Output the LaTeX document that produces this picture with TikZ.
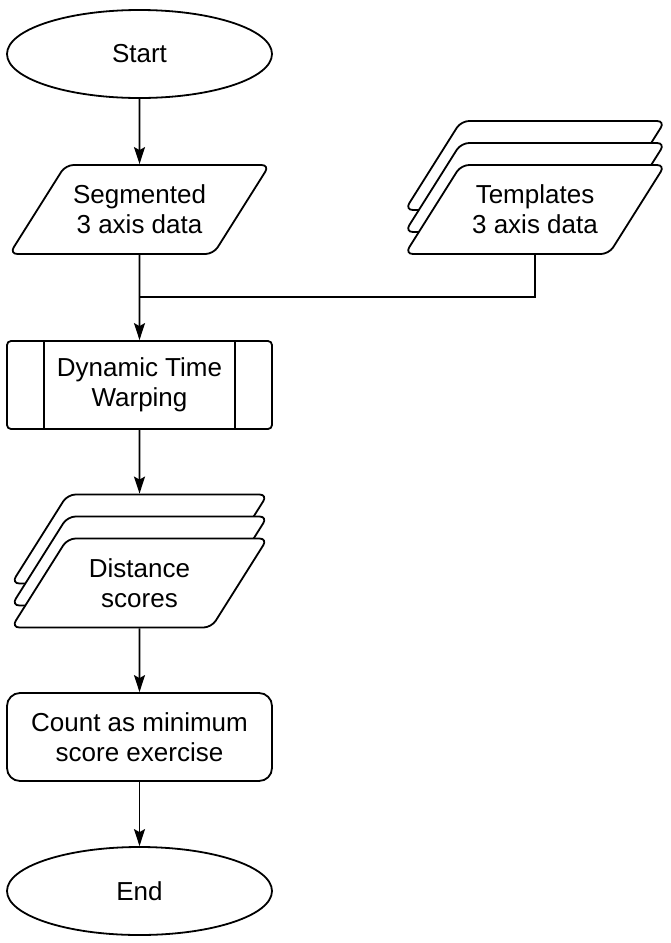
\documentclass[tikz,border=0pt]{standalone}
\usepackage{fontspec}
\setmainfont{Liberation Sans}
\usetikzlibrary{shapes.geometric,shadows,arrows.meta}

\begin{document}
\begin{tikzpicture}[x=1pt,y=1pt,line width=1.8pt,
	font=\fontsize{26pt}{30pt}\selectfont,
	box/.style={draw,fill=white,align=center,inner sep=0pt,minimum width=265pt,minimum height=88pt},
	term/.style={box,ellipse},
	io/.style={box,trapezium,trapezium left angle=56,trapezium right angle=124,inner ysep=17pt,
		trapezium stretches body,rounded corners=8pt,minimum width=260pt,minimum height=89pt},
	stack/.style={copy shadow={shadow xshift=0pt,shadow yshift=44pt,line width=1.8pt},
		copy shadow={shadow xshift=0pt,shadow yshift=22pt,line width=1.8pt}},
	arr/.style={-{Stealth[length=17pt,width=11pt,inset=3pt]}}]
	\useasboundingbox (0,0) rectangle (670,-943);
	\node [term] (start) at (139.5,-54) {Start};
	\node [io] (seg) at (139.5,-209.5) {Segmented\\3 axis data};
	\node [io,stack] (tmpl) at (535,-209.5) {Templates\\3 axis data};
	\node [box,rounded corners=4pt] (dtw) at (139.5,-385) {Dynamic Time\\Warping};
	\node [io,stack,minimum width=256pt] (dist) at (139.5,-583) {Distance\\scores};
	\node [box,rounded corners=13pt] (count) at (139.5,-737) {Count as minimum\\score exercise};
	\node [term] (end) at (139.5,-891) {End};
	\coordinate (join) at (139.5,-297);
	% side bars of the process box
	\draw ([xshift=38pt]dtw.north west) -- ([xshift=38pt]dtw.south west);
	\draw ([xshift=-38pt]dtw.north east) -- ([xshift=-38pt]dtw.south east);
	% connectors
	\draw [arr] (start) -- (seg);
	\draw (tmpl.south) |- (join);
	\draw [arr] (seg) -- (dtw);
	\draw [arr] (dtw) -- ([yshift=44pt]dist.north);
	\draw [arr] (dist) -- (count);
	\draw [arr] (count) -- (end);
\end{tikzpicture}
\end{document}
